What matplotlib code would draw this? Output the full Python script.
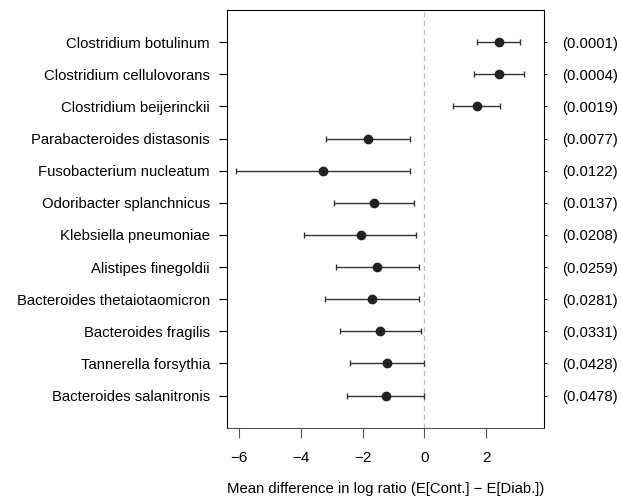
import numpy as np
import matplotlib.pyplot as plt

plt.rcParams['font.family'] = ['Liberation Sans', 'DejaVu Sans']

# datos
especies = ['Clostridium botulinum', 'Clostridium cellulovorans', 'Clostridium beijerinckii',
            'Parabacteroides distasonis', 'Fusobacterium nucleatum', 'Odoribacter splanchnicus',
            'Klebsiella pneumoniae', 'Alistipes finegoldii', 'Bacteroides thetaiotaomicron',
            'Bacteroides fragilis', 'Tannerella forsythia', 'Bacteroides salanitronis']
pvalores = ['(0.0001)', '(0.0004)', '(0.0019)', '(0.0077)', '(0.0122)', '(0.0137)',
            '(0.0208)', '(0.0259)', '(0.0281)', '(0.0331)', '(0.0428)', '(0.0478)']
media = [2.40, 2.42, 1.69, -1.83, -3.28, -1.62, -2.06, -1.52, -1.68, -1.42, -1.22, -1.25]
inferior = [1.71, 1.62, 0.94, -3.19, -6.08, -2.91, -3.88, -2.87, -3.20, -2.74, -2.40, -2.49]
superior = [3.08, 3.21, 2.46, -0.48, -0.48, -0.32, -0.26, -0.16, -0.16, -0.11, -0.02, 0.00]
xticks = [-6, -4, -2, 0, 2]

n = len(especies)
y = np.arange(n, 0, -1)
media = np.array(media)
err = [media - np.array(inferior), np.array(superior) - media]

fig = plt.figure(figsize=(6.21, 5.04), dpi=100)
ax = fig.add_axes([0.366, 0.1514, 0.5105, 0.8288])

ax.axvline(0, color='#bbbbbb', lw=0.9, ls=(0, (4, 3)), zorder=1)
ax.errorbar(media, y, xerr=err, fmt='o', color='#222222', ecolor='#333333',
            ms=6, elinewidth=1.0, capsize=2.0, capthick=1.0, zorder=3)

ax.set_xlim(-6.375, 3.88)
ax.set_ylim(0, n + 1)
ax.set_xticks(xticks)
ax.set_xticklabels(['\u2212' + str(abs(v)) if v < 0 else str(v) for v in xticks])
ax.set_yticks(y)
ax.set_yticklabels(especies)
ax.tick_params(axis='y', length=6, width=0.8, pad=6.5, labelsize=10.7)
ax.tick_params(axis='x', length=7, width=0.8, pad=10, labelsize=11, color='#555555')
ax.set_xlabel('Mean difference in log ratio (E[Cont.] \u2212 E[Diab.])', fontsize=10.7, labelpad=12)
ax.spines['bottom'].set_color('#555555')
for s in ax.spines.values():
    s.set_linewidth(0.8)

ax2 = ax.twinx()
ax2.set_ylim(ax.get_ylim())
ax2.set_yticks(y)
ax2.set_yticklabels(pvalores)
ax2.tick_params(axis='y', length=2, width=0.8, pad=11, labelsize=10.7)
for s in ax2.spines.values():
    s.set_visible(False)

fig.savefig('out.png', dpi=100)
